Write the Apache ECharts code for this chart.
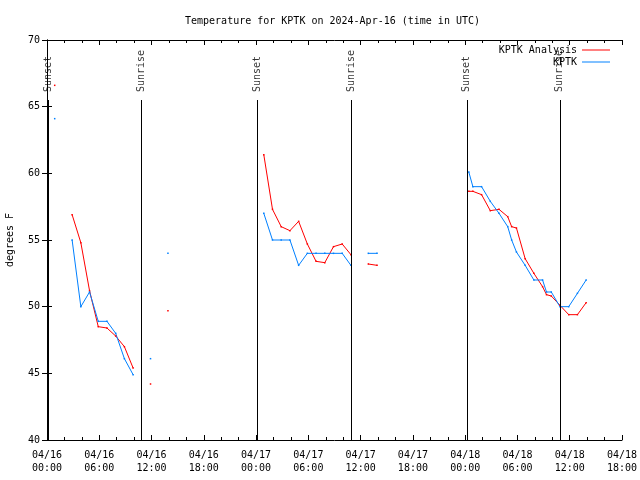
<!DOCTYPE html>
<html>
<head>
<meta charset="utf-8">
<script src="https://cdn.jsdelivr.net/npm/echarts@6/dist/echarts.min.js"></script>
<style>html,body{margin:0;padding:0;background:#fff}#c{width:640px;height:480px}</style>
</head>
<body>
<div id="c"></div>
<script>
// ---- data ----
const times = [
  '04/16 00:53','04/16 01:53','04/16 02:53','04/16 03:53','04/16 04:53','04/16 05:53','04/16 06:53',
  '04/16 07:53','04/16 08:53','04/16 09:53','04/16 10:53','04/16 11:53','04/16 12:53','04/16 13:53',
  '04/16 14:53',
  '04/17 00:53','04/17 01:53','04/17 02:53','04/17 03:53','04/17 04:53','04/17 05:53','04/17 06:53',
  '04/17 07:53','04/17 08:53','04/17 09:53','04/17 10:53','04/17 11:53','04/17 12:53','04/17 13:53',
  '04/17 14:53',
  '04/18 00:25','04/18 00:53','04/18 01:53','04/18 02:53','04/18 03:53','04/18 04:53','04/18 05:20',
  '04/18 05:53','04/18 06:53','04/18 07:53','04/18 08:53','04/18 09:20','04/18 09:53','04/18 10:53',
  '04/18 11:53','04/18 12:53','04/18 13:53'
];
const analysis = [
  66.6, null, 56.9, 54.8, 51.2, 48.5, 48.4,
  47.8, 47.0, 45.4, null, 44.2, null, 49.7,
  null,
  61.4, 57.3, 56.0, 55.7, 56.4, 54.7, 53.4,
  53.3, 54.5, 54.7, 53.9, null, 53.2, 53.1,
  null,
  58.65, 58.65, 58.4, 57.2, 57.3, 56.75, 56.0,
  55.9, 53.6, 52.5, 51.5, 50.9, 50.8, 50.1,
  49.4, 49.4, 50.3
];
const observed = [
  64.1, null, 55.0, 50.0, 51.1, 48.9, 48.9,
  48.0, 46.1, 44.9, null, 46.1, null, 54.0,
  null,
  57.0, 55.0, 55.0, 55.0, 53.1, 54.0, 54.0,
  54.0, 54.0, 54.0, 53.1, null, 54.0, 54.0,
  null,
  60.1, 59.0, 59.0, 57.9, 57.0, 56.0, 55.0,
  54.1, 53.1, 52.0, 52.0, 51.1, 51.1, 50.0,
  50.0, 51.0, 52.0
];
const sunTimes = ['04/16 00:11','04/16 10:52','04/17 00:11','04/17 10:54','04/18 00:11','04/18 10:52'];
const sunLabels = ['Sunset','Sunrise','Sunset','Sunrise','Sunset','Sunrise'];
const yTicks = [40, 45, 50, 55, 60, 65, 70];

// ---- helpers ----
const START = Date.UTC(2024, 3, 16, 0, 0);
function hrs(s) {
  const [d, t] = s.split(' ');
  const [mo, da] = d.split('/').map(Number);
  const [hh, mm] = t.split(':').map(Number);
  return (Date.UTC(2024, mo - 1, da, hh, mm) - START) / 3600000;
}
const pad = n => (n < 10 ? '0' : '') + n;
const FONT = "'DejaVu Sans Mono', 'Liberation Mono', monospace";

const redData = times.map((t, i) => [hrs(t), analysis[i]]);
const blueData = times.map((t, i) => [hrs(t), observed[i]]);
const LINE_TOP = 65.5, LABEL_Y = 66.1;
const sunLabelData = sunTimes.map((t, i) => ({ value: [hrs(t), LABEL_Y], name: sunLabels[i] }));
const sunLines = sunTimes.map(t => [{ coord: [hrs(t), yTicks[0]] }, { coord: [hrs(t), LINE_TOP] }]);

const xCommon = {
  type: 'value', min: 0, max: 66, interval: 6,
  axisLine: { show: true, lineStyle: { color: '#000', width: 1 } },
  axisTick: { show: true, inside: true, length: 5, lineStyle: { color: '#000' } },
  minorTick: { show: true, splitNumber: 3, length: 3, lineStyle: { color: '#000' } },
  splitLine: { show: false }, minorSplitLine: { show: false }
};
const yCommon = {
  type: 'value', min: yTicks[0], max: yTicks[yTicks.length - 1], interval: 5,
  axisLine: { show: true, lineStyle: { color: '#000', width: 1 } },
  axisTick: { show: true, inside: true, length: 5, lineStyle: { color: '#000' } },
  splitLine: { show: false }
};

const chart = echarts.init(document.getElementById('c'), null, { renderer: 'canvas' });
chart.setOption({
  animation: false,
  backgroundColor: '#fff',
  title: {
    text: 'Temperature for KPTK on 2024-Apr-16 (time in UTC)',
    left: 180, top: 11,
    textStyle: { fontFamily: FONT, fontSize: 10, fontWeight: 'normal', color: '#000' }
  },
  legend: [
    { data: ['KPTK Analysis'], right: 30, top: 45, padding: 0, align: 'right', icon: 'rect',
      itemWidth: 28, itemHeight: 1, selectedMode: false,
      textStyle: { fontFamily: FONT, fontSize: 10, color: '#000' } },
    { data: ['KPTK'], right: 30, top: 57, padding: 0, align: 'right', icon: 'rect',
      itemWidth: 28, itemHeight: 1, selectedMode: false,
      textStyle: { fontFamily: FONT, fontSize: 10, color: '#000' } }
  ],
  grid: { left: 47, right: 18, top: 40, bottom: 40, containLabel: false, outerBoundsMode: 'none' },
  xAxis: [
    Object.assign({}, xCommon, {
      position: 'bottom',
      axisLabel: {
        show: true, margin: 9, color: '#000', fontFamily: FONT, fontSize: 10, lineHeight: 13,
        formatter: v => '04/' + (16 + Math.floor(v / 24)) + '\n' + pad(v % 24) + ':00'
      }
    }),
    Object.assign({}, xCommon, { position: 'top', axisLabel: { show: false } })
  ],
  yAxis: [
    Object.assign({}, yCommon, {
      position: 'left',
      name: 'degrees F', nameLocation: 'middle', nameGap: 32, nameRotate: 90,
      nameTextStyle: { fontFamily: FONT, fontSize: 10, color: '#000' },
      axisLabel: { show: true, margin: 7, color: '#000', fontFamily: FONT, fontSize: 10 }
    }),
    Object.assign({}, yCommon, { position: 'right', axisLabel: { show: false } })
  ],
  series: [
    {
      name: 'sun', type: 'scatter', symbolSize: 0, silent: true,
      data: sunLabelData,
      label: {
        show: true, position: 'inside', rotate: 90, align: 'left', verticalAlign: 'middle',
        formatter: p => p.name, fontFamily: FONT, fontSize: 10, color: '#000'
      },
      markLine: {
        silent: true, symbol: 'none', animation: false,
        label: { show: false },
        lineStyle: { color: '#000', width: 1, type: 'solid' },
        emphasis: { disabled: true },
        data: sunLines
      }
    },
    {
      name: 'KPTK Analysis', type: 'line', data: redData, connectNulls: false,
      symbol: 'rect', symbolSize: 1.5, showSymbol: true, showAllSymbol: true,
      color: '#ff0000', lineStyle: { color: '#ff0000', width: 1 }, itemStyle: { color: '#ff0000' },
      emphasis: { disabled: true }
    },
    {
      name: 'KPTK', type: 'line', data: blueData, connectNulls: false,
      symbol: 'rect', symbolSize: 1.5, showSymbol: true, showAllSymbol: true,
      color: '#0080ff', lineStyle: { color: '#0080ff', width: 1 }, itemStyle: { color: '#0080ff' },
      emphasis: { disabled: true }
    }
  ]
});
</script>
</body>
</html>
